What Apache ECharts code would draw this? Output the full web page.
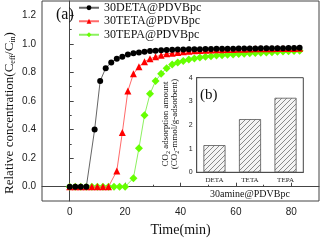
<!DOCTYPE html>
<html><head><meta charset="utf-8">
<script src="https://cdn.jsdelivr.net/npm/echarts@6/dist/echarts.min.js"></script>
<style>html,body{margin:0;padding:0;background:#fff}#c{width:322px;height:242px}</style>
</head><body><div id="c"></div>
<script>
// ---- data ----
const detaX = [0,2,4,6,9,11,13,15,17,19,21,23,25,27,29,31,33,35,37,39,41,43,45,47,49,51,53,55,57,59,61,63,65,67,69,71,73,75,77,79,81,83];
const detaY = [0,0,0,0,0.40,0.74,0.83,0.87,0.895,0.91,0.925,0.935,0.94,0.945,0.95,0.952,0.955,0.957,0.958,0.96,0.961,0.962,0.963,0.963,0.964,0.964,0.965,0.965,0.966,0.966,0.967,0.967,0.968,0.968,0.969,0.969,0.97,0.97,0.97,0.971,0.971,0.972];
const tetaX = [0,2,4,6,8,10,12,14,17,19,21,23,25,27,29,31,33,35,37,39,41,43,45,47,49,51,53,55,57,59,61,63,65,67,69,71,73,75,77,79,81,83];
const tetaY = [0,0,0,0,0,0,0,0,0.11,0.38,0.67,0.79,0.84,0.875,0.895,0.91,0.92,0.93,0.935,0.94,0.945,0.948,0.951,0.953,0.955,0.957,0.958,0.959,0.96,0.961,0.962,0.963,0.964,0.965,0.965,0.966,0.966,0.967,0.967,0.968,0.968,0.969];
const tepaX = [0,2,4,6,8,10,12,14,16,18,20,23,25,27,29,31,33,35,37,39,41,43,45,47,49,51,53,55,57,59,61,63,65,67,69,71,73,75,77,79,81,83];
const tepaY = [0,0,0,0,0,0,0,0,0,0,0,0.06,0.27,0.50,0.65,0.74,0.79,0.83,0.855,0.87,0.88,0.89,0.898,0.904,0.91,0.914,0.918,0.921,0.924,0.926,0.929,0.931,0.934,0.936,0.938,0.94,0.942,0.944,0.946,0.948,0.95,0.952];
const seriesNames = ['30DETA@PDVBpc','30TETA@PDVBpc','30TEPA@PDVBpc'];
const xTicks = [0,20,40,60,80];
const xMinorTicks = [10,30,50,70];
const yTicks = [0,0.2,0.4,0.6,0.8,1.0,1.2];
const yMinorTicks = [0.1,0.3,0.5,0.7,0.9,1.1];
const insetCats = ['DETA','TETA','TEPA'];
const insetVals = [1.15,2.25,3.15];

// hatch pattern
const pc = document.createElement('canvas');
pc.width = 5; pc.height = 5;
const pctx = pc.getContext('2d');
pctx.fillStyle = '#f4f4f4'; pctx.fillRect(0,0,5,5);
pctx.strokeStyle = '#8a8a8a'; pctx.lineWidth = 1;
pctx.beginPath(); pctx.moveTo(-1,6); pctx.lineTo(6,-1); pctx.stroke();
pctx.beginPath(); pctx.moveTo(-1,1); pctx.lineTo(1,-1); pctx.stroke();
pctx.beginPath(); pctx.moveTo(4,6); pctx.lineTo(6,4); pctx.stroke();

const zip = (a,b) => a.map((v,i)=>[v,b[i]]);
const serif = 'Liberation Serif';
const sans = 'Liberation Sans';
const axisC = '#444';

const chart = echarts.init(document.getElementById('c'), null, {renderer:'canvas'});
chart.setOption({
  animation:false,
  backgroundColor:'#fff',
  grid:[
    {left:42,right:3,top:1,bottom:34.5,show:true,borderColor:axisC,borderWidth:1,backgroundColor:'transparent'},
    {left:196.7,width:106.6,top:77.7,height:94.6,show:true,borderColor:axisC,borderWidth:1,backgroundColor:'#fff',z:5}
  ],
  legend:{
    orient:'vertical',left:73,top:0,padding:[1,5,5,5],itemWidth:20,itemHeight:6,itemGap:0,
    textStyle:{fontFamily:serif,fontSize:12,color:'#111',lineHeight:13.5},
    data:seriesNames
  },
  xAxis:[
    {type:'value',gridIndex:0,min:-10,max:90,
     axisLine:{lineStyle:{color:axisC}},splitLine:{show:false},
     axisTick:{inside:true,length:4,customValues:xTicks,lineStyle:{color:axisC}},
     axisLabel:{customValues:xTicks,fontFamily:sans,fontSize:10,color:'#222',margin:6},
     name:'Time(min)',nameLocation:'middle',nameGap:22,
     nameTextStyle:{fontFamily:serif,fontSize:14,color:'#111'}},
    {type:'value',gridIndex:0,min:-10,max:90,position:'bottom',
     axisLine:{show:false},splitLine:{show:false},
     axisTick:{inside:true,length:2,customValues:xMinorTicks,lineStyle:{color:axisC}},
     axisLabel:{show:false}},
    {type:'category',gridIndex:1,data:insetCats,
     axisLine:{lineStyle:{color:axisC}},axisTick:{show:false},
     axisLabel:{fontFamily:serif,fontSize:7,color:'#222',margin:4},
     name:'30amine@PDVBpc',nameLocation:'middle',nameGap:17,
     nameTextStyle:{fontFamily:serif,fontSize:10,color:'#111'}}
  ],
  yAxis:[
    {type:'value',gridIndex:0,min:-0.1,max:1.3,
     axisLine:{show:true,lineStyle:{color:axisC}},splitLine:{show:false},
     axisTick:{show:true,inside:true,length:4,customValues:yTicks,lineStyle:{color:axisC}},
     axisLabel:{customValues:yTicks,fontFamily:sans,fontSize:10,color:'#222',margin:6,
       formatter:v=>v.toFixed(1)}},
    {type:'value',gridIndex:0,min:-0.1,max:1.3,position:'left',
     axisLine:{show:false},splitLine:{show:false},
     axisTick:{show:true,inside:true,length:2,customValues:yMinorTicks,lineStyle:{color:axisC}},
     axisLabel:{show:false}},
    {type:'value',gridIndex:1,min:0,max:4,interval:1,
     axisLine:{show:true,lineStyle:{color:axisC}},splitLine:{show:false},
     axisTick:{show:true,inside:true,length:3,lineStyle:{color:axisC}},
     axisLabel:{fontFamily:sans,fontSize:7,color:'#222',margin:4}}
  ],
  series:[
    {name:seriesNames[0],type:'line',xAxisIndex:0,yAxisIndex:0,data:zip(detaX,detaY),
     symbol:'circle',symbolSize:6,lineStyle:{color:'#666',width:1},itemStyle:{color:'#000'},z:4},
    {name:seriesNames[1],type:'line',xAxisIndex:0,yAxisIndex:0,data:zip(tetaX,tetaY),
     symbol:'triangle',symbolSize:7,lineStyle:{color:'#ff6a6a',width:1},itemStyle:{color:'#ff0000'},z:3},
    {name:seriesNames[2],type:'line',xAxisIndex:0,yAxisIndex:0,data:zip(tepaX,tepaY),
     symbol:'diamond',symbolSize:8,lineStyle:{color:'#8cf060',width:1},itemStyle:{color:'#66ff00'},z:2},
    {type:'bar',xAxisIndex:2,yAxisIndex:2,data:insetVals,barWidth:'62%',z:6,
     itemStyle:{color:{image:pc,repeat:'repeat'},borderColor:'#555',borderWidth:0.8}}
  ],
  graphic:[
    {type:'text',left:56,top:7,z:10,style:{text:'(a)',fontFamily:serif,fontSize:16,fill:'#111'}},
    {type:'text',left:200,top:88,z:10,style:{text:'(b)',fontFamily:serif,fontSize:15,fill:'#111'}},
    {type:'text',x:10,y:113,rotation:Math.PI/2,z:10,
     style:{text:'Relative concentration(C{s|eff}/C{s|in})',fontFamily:serif,fontSize:13,fill:'#111',
       align:'center',verticalAlign:'middle',
       rich:{s:{fontFamily:serif,fontSize:8,fill:'#111',verticalAlign:'bottom',padding:[6,0,0,0]}}}},
    {type:'text',x:166,y:124,rotation:Math.PI/2,z:10,
     style:{text:'CO{s|2} adsorption amount',fontFamily:serif,fontSize:9,fill:'#111',
       align:'center',verticalAlign:'middle',
       rich:{s:{fontFamily:serif,fontSize:6,fill:'#111',padding:[4,0,0,0]}}}},
    {type:'text',x:175,y:124,rotation:Math.PI/2,z:10,
     style:{text:'(CO{s|2}-mmol/g-adsorbent)',fontFamily:serif,fontSize:9,fill:'#111',
       align:'center',verticalAlign:'middle',
       rich:{s:{fontFamily:serif,fontSize:6,fill:'#111',padding:[4,0,0,0]}}}}
  ]
});
</script></body></html>
